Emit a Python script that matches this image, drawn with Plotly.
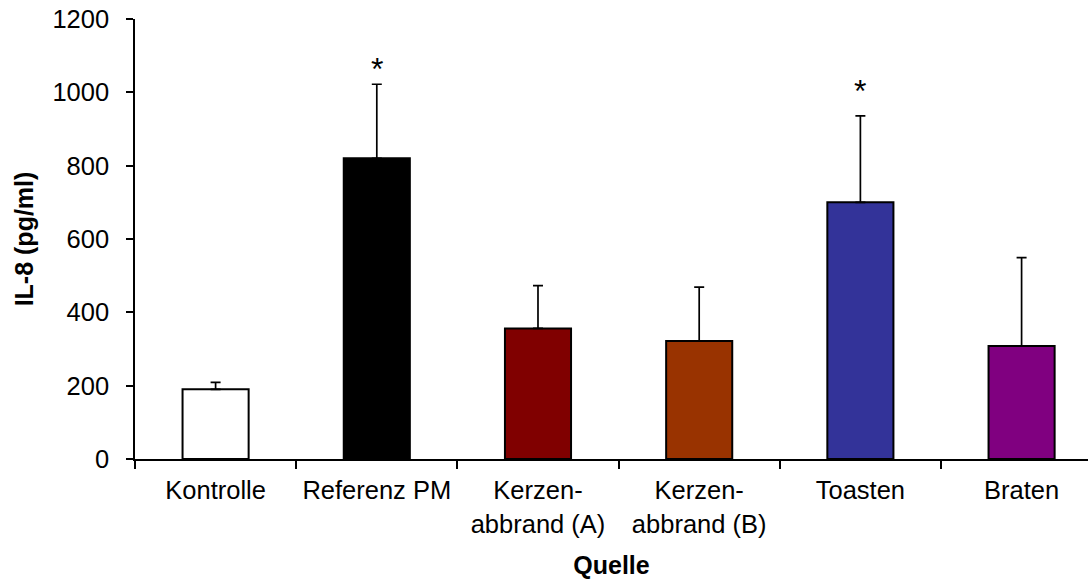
import plotly.graph_objects as go

categories = ["Kontrolle", "Referenz PM", "Kerzen-<br>abbrand (A)", "Kerzen-<br>abbrand (B)", "Toasten", "Braten"]
means = [190, 820, 356, 322, 700, 308]
errors = [19, 202, 117, 147, 236, 241]
colors = ["#FFFFFF", "#000000", "#800000", "#993300", "#333399", "#800080"]
sig_marks = ["", "*", "", "", "*", ""]
sig_y = [None, 1075, None, None, 1015, None]

FONT = "Liberation Sans, Arial, sans-serif"
FS = 25.5

fig = go.Figure()
fig.add_trace(go.Bar(
    x=categories,
    y=means,
    width=0.41,
    marker=dict(color=colors, line=dict(color="black", width=2)),
    error_y=dict(type="data", array=errors, arrayminus=[0] * len(errors),
                 symmetric=False, color="black", thickness=1.7, width=5),
    showlegend=False,
    hoverinfo="skip",
))

for c, m, yv in zip(categories, sig_marks, sig_y):
    if m:
        fig.add_annotation(x=c, y=yv, text=m, showarrow=False,
                           font=dict(family=FONT, size=32, color="black"),
                           yanchor="middle", xanchor="center", yshift=-4)

fig.update_layout(
    width=1088, height=579,
    margin=dict(l=135, r=0, t=19, b=120, pad=0),
    paper_bgcolor="white", plot_bgcolor="white",
    font=dict(family=FONT, size=FS, color="black"),
    bargap=0.59,
)

fig.update_xaxes(
    type="category",
    range=[-0.5, 5.412],
    showline=True, linecolor="black", linewidth=1.5,
    ticks="outside", ticklen=8, tickwidth=1.5, tickcolor="black",
    tickson="boundaries",
    showgrid=False, zeroline=False,
    tickfont=dict(family=FONT, size=FS, color="black"),
    ticklabelstandoff=8,
    title=dict(text="<b>Quelle</b>", font=dict(family=FONT, size=25, color="black"), standoff=26),
    automargin=False,
)

fig.update_yaxes(
    range=[0, 1200],
    tickvals=[0, 200, 400, 600, 800, 1000, 1200],
    showline=True, linecolor="black", linewidth=1.5,
    ticks="outside", ticklen=7, tickwidth=1.5, tickcolor="black",
    showgrid=False, zeroline=False,
    tickfont=dict(family=FONT, size=FS, color="black"),
    ticklabelstandoff=12,
    title=dict(text="<b>IL-8 (pg/ml)</b>", font=dict(family=FONT, size=25, color="black"), standoff=12),
    automargin=False,
)

fig.write_html("out.html")
